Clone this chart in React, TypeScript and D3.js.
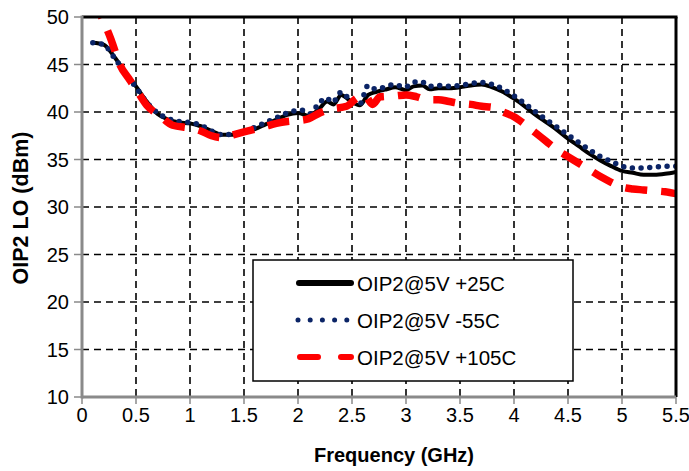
import React from "react";
import * as d3 from "d3";

const xTicks = [0, 0.5, 1, 1.5, 2, 2.5, 3, 3.5, 4, 4.5, 5, 5.5];
const xTickLabels = ["0", "0.5", "1", "1.5", "2", "2.5", "3", "3.5", "4", "4.5", "5", "5.5"];
const yTicks = [10, 15, 20, 25, 30, 35, 40, 45, 50];

const freq25 = [0.1, 0.2, 0.3, 0.4, 0.5, 0.6, 0.7, 0.8, 0.9, 1.0, 1.1, 1.2, 1.3, 1.4, 1.5, 1.6, 1.7, 1.8, 1.9, 2.0, 2.1, 2.2, 2.27, 2.33, 2.4, 2.48, 2.57, 2.65, 2.72, 2.82, 2.9, 3.0, 3.07, 3.15, 3.22, 3.3, 3.4, 3.5, 3.6, 3.7, 3.8, 3.9, 4.0, 4.1, 4.2, 4.3, 4.4, 4.5, 4.6, 4.7, 4.8, 4.9, 5.0, 5.1, 5.2, 5.3, 5.4, 5.5];
const oip25 = [47.3, 47.1, 45.8, 44.2, 42.7, 41.1, 39.8, 39.2, 38.9, 38.8, 38.5, 38.0, 37.6, 37.6, 37.8, 38.2, 38.7, 39.2, 39.7, 39.9, 39.6, 40.4, 41.1, 40.8, 41.8, 41.2, 40.7, 41.8, 42.1, 42.4, 42.6, 42.3, 42.7, 42.8, 42.4, 42.5, 42.5, 42.6, 42.8, 42.9, 42.6, 42.1, 41.4, 40.6, 39.7, 38.9, 38.1, 37.2, 36.4, 35.6, 34.9, 34.3, 33.8, 33.6, 33.4, 33.4, 33.5, 33.7];

const freqM55 = [0.1, 0.2, 0.3, 0.4, 0.5, 0.6, 0.7, 0.8, 0.9, 1.0, 1.1, 1.2, 1.3, 1.4, 1.5, 1.6, 1.7, 1.8, 1.9, 2.03, 2.11, 2.18, 2.26, 2.32, 2.4, 2.48, 2.57, 2.65, 2.72, 2.82, 2.89, 2.99, 3.06, 3.14, 3.22, 3.3, 3.4, 3.5, 3.6, 3.7, 3.8, 3.9, 4.0, 4.1, 4.2, 4.3, 4.4, 4.5, 4.6, 4.7, 4.8, 4.9, 5.0, 5.1, 5.2, 5.3, 5.4, 5.5];
const oipM55 = [47.3, 47.1, 45.7, 44.1, 42.6, 41.0, 39.9, 39.3, 39.0, 38.9, 38.6, 38.0, 37.6, 37.7, 37.9, 38.4, 38.9, 39.4, 39.9, 40.2, 39.8, 40.7, 41.5, 41.0, 42.1, 41.3, 40.8, 42.8, 42.4, 42.7, 42.9, 42.6, 43.1, 43.2, 42.7, 42.8, 42.7, 42.8, 43.0, 43.1, 42.9, 42.4, 41.7, 40.9, 40.0, 39.2, 38.4, 37.6, 36.8, 36.0, 35.3, 34.8, 34.3, 34.1, 34.1, 34.2, 34.3, 34.3];

const freq105 = [0.1, 0.17, 0.27, 0.35, 0.44, 0.5, 0.6, 0.72, 0.84, 1.0, 1.1, 1.2, 1.3, 1.4, 1.5, 1.6, 1.7, 1.8, 1.9, 2.0, 2.1, 2.2, 2.3, 2.45, 2.55, 2.62, 2.69, 2.76, 2.9, 3.0, 3.1, 3.2, 3.3, 3.4, 3.5, 3.6, 3.7, 3.8, 3.9, 4.0, 4.1, 4.2, 4.3, 4.4, 4.5, 4.6, 4.7, 4.8, 4.9, 5.0, 5.1, 5.2, 5.3, 5.4, 5.5];
const oip105 = [52.0, 50.3, 47.6, 45.0, 43.4, 42.4, 40.7, 39.6, 38.6, 38.3, 38.0, 37.5, 37.3, 37.6, 37.9, 38.2, 38.5, 38.8, 39.0, 39.1, 39.3, 39.9, 40.3, 40.6, 41.5, 41.7, 40.8, 41.6, 41.7, 41.8, 41.6, 41.3, 41.3, 41.1, 40.9, 40.8, 40.6, 40.5, 40.0, 39.5, 38.7, 37.8, 36.9, 36.0, 35.3, 34.6, 33.9, 33.2, 32.6, 32.1, 31.9, 31.8, 31.7, 31.6, 31.4];

const legendLabels = ["OIP2@5V +25C", "OIP2@5V -55C", "OIP2@5V +105C"];

const W = 689, H = 471;
const L = 82, R = 676, T = 17, B = 397;
const FONT = "Liberation Sans, Arial, Helvetica, sans-serif";

export default function App() {
  const x = d3.scaleLinear().domain([0, 5.5]).range([L, R]);
  const y = d3.scaleLinear().domain([10, 50]).range([B, T]);
  const line = d3.line<[number, number]>().x(d => x(d[0])).y(d => y(d[1])).curve(d3.curveMonotoneX);
  const zip = (a: number[], b: number[]) => a.map((v, i) => [v, b[i]] as [number, number]);
  const p25 = line(zip(freq25, oip25)) || "";
  const pM55 = line(zip(freqM55, oipM55)) || "";
  const p105 = line(zip(freq105, oip105)) || "";
  const gray = "#8a8a8a";
  const legY = [283, 320, 357];

  return (
    <svg width={W} height={H} style={{ position: "absolute", left: 0, top: 0, background: "#fff" }}>
      <defs>
        <clipPath id="plotclip">
          <rect x={L} y={T} width={R - L} height={B - T} />
        </clipPath>
      </defs>
      <rect x={0} y={0} width={W} height={H} fill="#fff" />
      {/* grid */}
      {yTicks.filter(v => v > 10 && v < 50).map(v => (
        <line key={"gy" + v} x1={L} x2={R} y1={y(v)} y2={y(v)} stroke="#000" strokeWidth={1.6} strokeDasharray="7 5" />
      ))}
      {xTicks.filter(v => v > 0 && v < 5.5).map(v => (
        <line key={"gx" + v} x1={x(v)} x2={x(v)} y1={T} y2={B} stroke="#000" strokeWidth={1.6} strokeDasharray="7 5" />
      ))}
      {/* curves */}
      <g clipPath="url(#plotclip)">
        <path d={p25} fill="none" stroke="#000" strokeWidth={4} strokeLinejoin="round" />
        <path d={pM55} fill="none" stroke="#0b2466" strokeWidth={5.5} strokeDasharray="0 8.7" strokeLinecap="round" />
        <path d={p105} fill="none" stroke="#ff0000" strokeWidth={7.5} strokeDasharray="22 14" />
      </g>
      {/* frame */}
      <line x1={L} x2={R + 1.5} y1={T} y2={T} stroke="#000" strokeWidth={3} />
      <line x1={R} x2={R} y1={T} y2={B} stroke="#000" strokeWidth={3} />
      <line x1={L} x2={L} y1={T - 1.5} y2={B + 1.5} stroke={gray} strokeWidth={3} />
      <line x1={L} x2={R} y1={B} y2={B} stroke={gray} strokeWidth={3} />
      {/* ticks */}
      {yTicks.map(v => (
        <g key={"ty" + v}>
          <line x1={L - 8} x2={L} y1={y(v)} y2={y(v)} stroke={gray} strokeWidth={1.5} />
          <text x={L - 13} y={y(v) + 7} textAnchor="end" fontFamily={FONT} fontSize={20} fill="#000">{v}</text>
        </g>
      ))}
      {xTicks.map((v, i) => (
        <g key={"tx" + v}>
          <line x1={x(v)} x2={x(v)} y1={B} y2={B + 7} stroke={gray} strokeWidth={1.5} />
          <text x={x(v)} y={422} textAnchor="middle" fontFamily={FONT} fontSize={20} fill="#000">{xTickLabels[i]}</text>
        </g>
      ))}
      {/* axis titles */}
      <text x={394} y={462} textAnchor="middle" fontFamily={FONT} fontSize={20} fontWeight="bold" fill="#000">Frequency (GHz)</text>
      <text transform={`translate(28,208) rotate(-90)`} textAnchor="middle" fontFamily={FONT} fontSize={21.5} fontWeight="bold" fill="#000">OIP2 LO (dBm)</text>
      {/* legend */}
      <rect x={253} y={260} width={320} height={121} fill="#fff" stroke="#000" strokeWidth={1.5} />
      <line x1={299} x2={351} y1={legY[0]} y2={legY[0]} stroke="#000" strokeWidth={6} strokeLinecap="round" />
      <line x1={298} x2={350} y1={legY[1]} y2={legY[1]} stroke="#0b2466" strokeWidth={5} strokeDasharray="0 12.2" strokeLinecap="round" />
      <line x1={300} x2={351} y1={legY[2]} y2={legY[2]} stroke="#ff0000" strokeWidth={6} strokeDasharray="18 23" strokeLinecap="round" />
      {legendLabels.map((t, i) => (
        <text key={t} x={357} y={legY[i] + 7.5} fontFamily={FONT} fontSize={20.5} fill="#000">{t}</text>
      ))}
    </svg>
  );
}
